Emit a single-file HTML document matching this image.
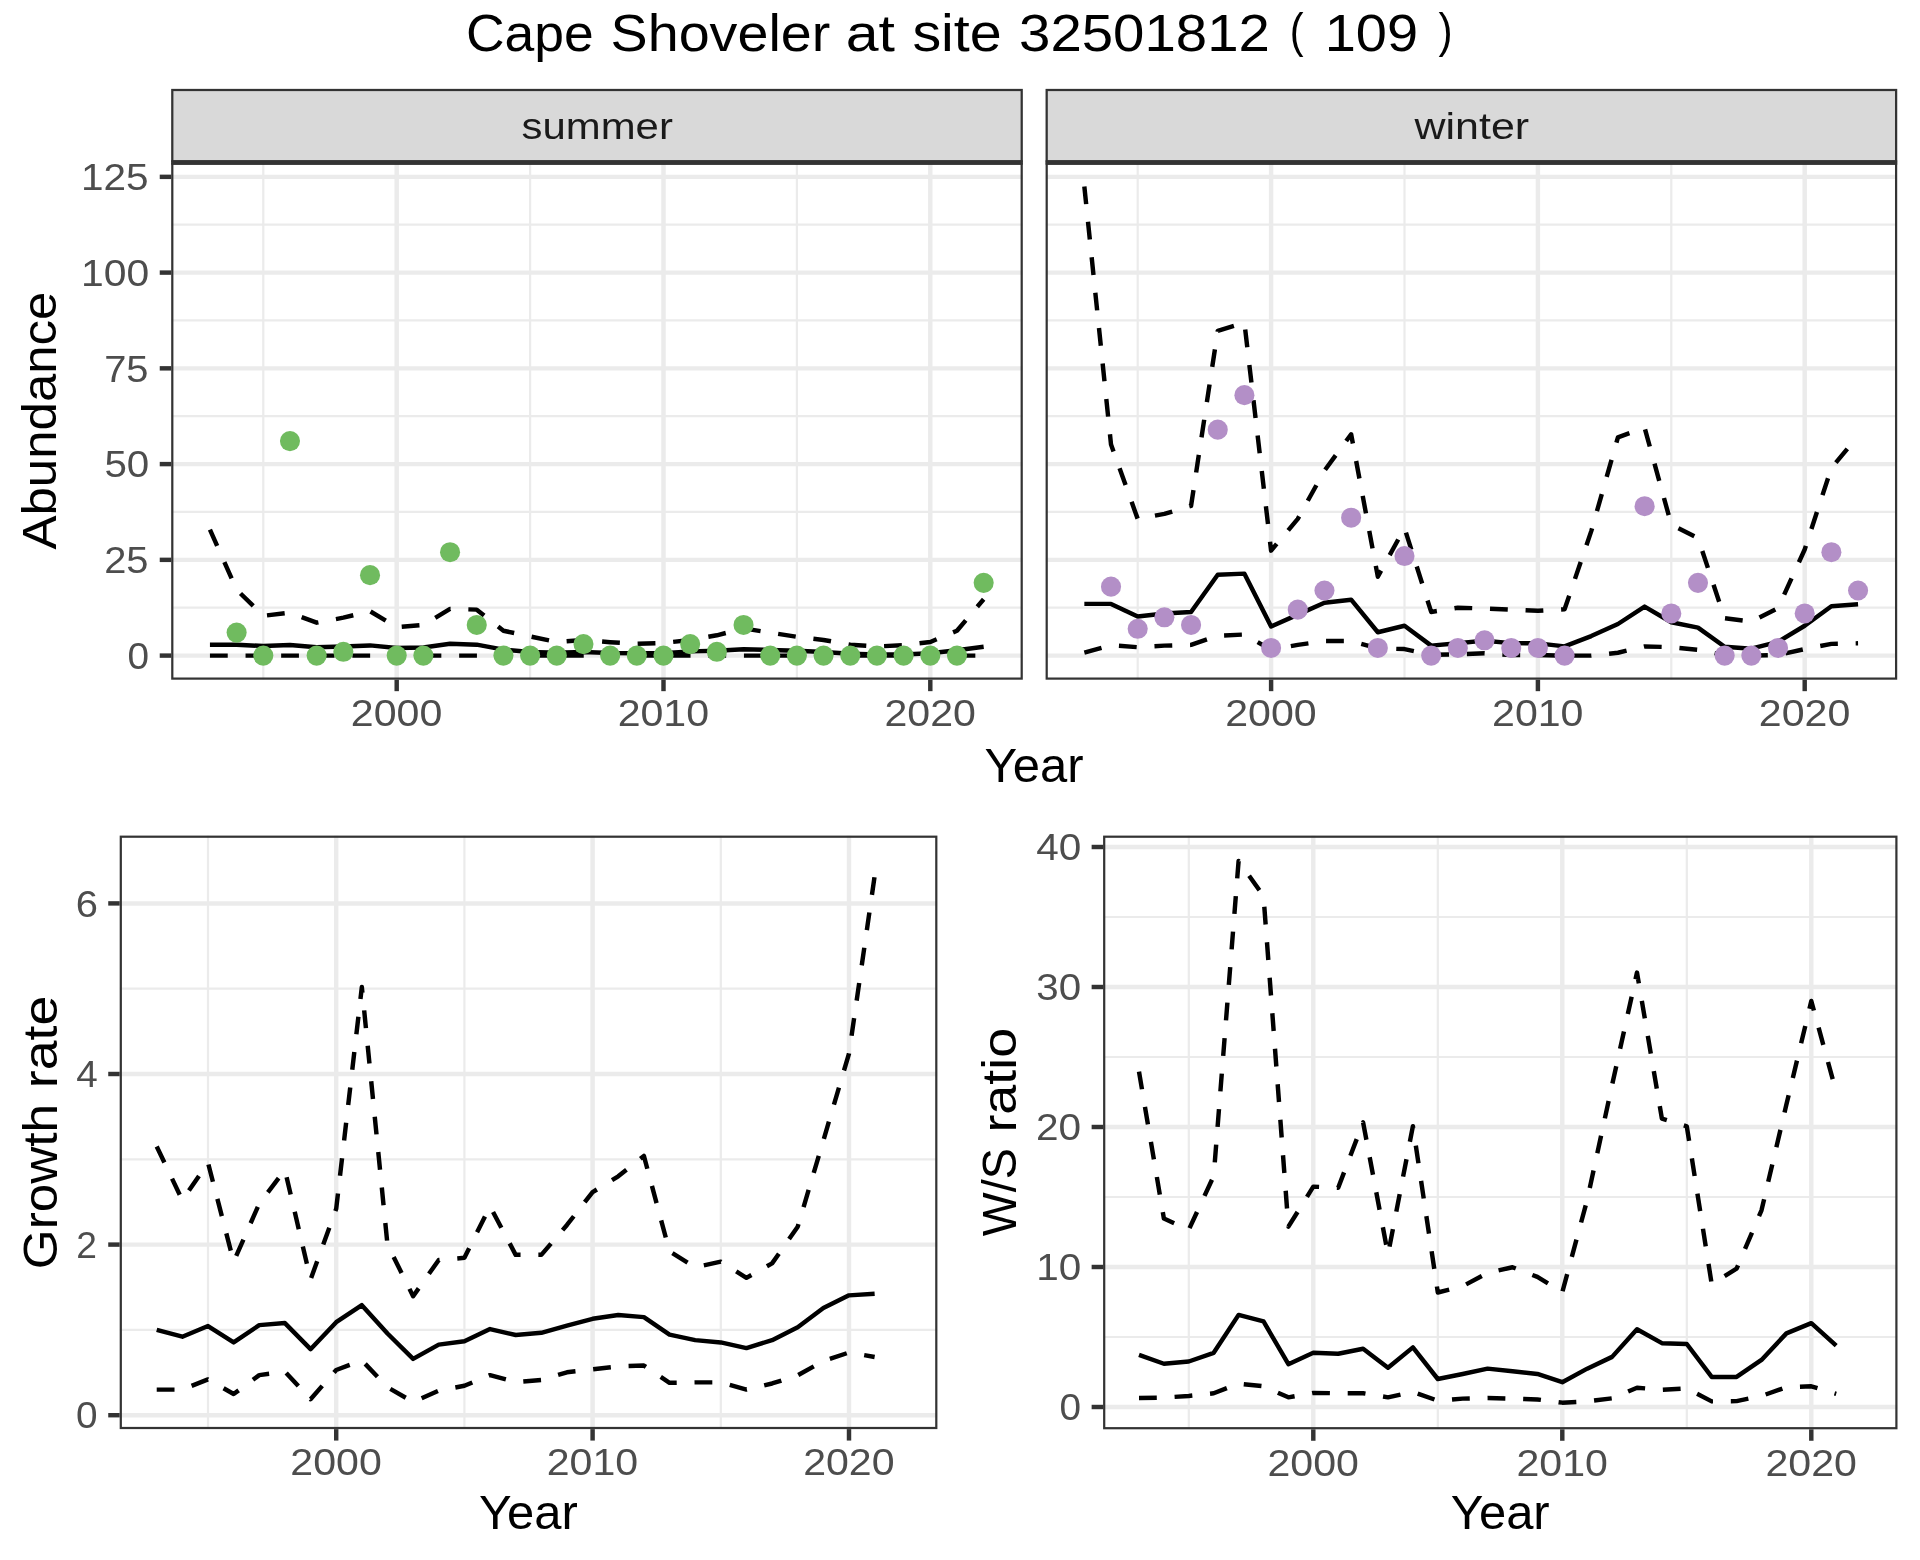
<!DOCTYPE html>
<html><head><meta charset="utf-8"><title>Cape Shoveler at site 32501812</title>
<style>html,body{margin:0;padding:0;background:#fff}svg{display:block;will-change:transform}text{font-family:"Liberation Sans", sans-serif;white-space:pre}</style>
</head><body>
<svg width="1920" height="1560" viewBox="0 0 1920 1560">
<rect width="1920" height="1560" fill="#fff"/>
<g font-size="50.0" fill="#000">
<text transform="translate(465.93,50.80) scale(1.0697,1.0500)">Cape</text>
<text transform="translate(610.60,50.80) scale(1.1133,1.0500)">Shoveler</text>
<text transform="translate(845.70,50.80) scale(1.1795,1.0500)">at</text>
<text transform="translate(912.38,50.80) scale(1.1486,1.0500)">site</text>
<text transform="translate(1019.10,50.80) scale(1.1273,1.0500)">32501812</text>
<text transform="translate(1289.86,47.49) scale(0.8302,0.9570)">(</text>
<text transform="translate(1324.66,50.80) scale(1.1197,1.0500)">109</text>
<text transform="translate(1438.43,47.49) scale(0.8462,0.9570)">)</text>
</g>
<clipPath id="c1"><rect x="171.19" y="162.50" width="851.62" height="517.21"/></clipPath>
<g clip-path="url(#c1)">
<line x1="171.19" x2="1022.81" y1="607.73" y2="607.73" stroke="#EBEBEB" stroke-width="2.22"/>
<line x1="171.19" x2="1022.81" y1="511.98" y2="511.98" stroke="#EBEBEB" stroke-width="2.22"/>
<line x1="171.19" x2="1022.81" y1="416.23" y2="416.23" stroke="#EBEBEB" stroke-width="2.22"/>
<line x1="171.19" x2="1022.81" y1="320.48" y2="320.48" stroke="#EBEBEB" stroke-width="2.22"/>
<line x1="171.19" x2="1022.81" y1="224.73" y2="224.73" stroke="#EBEBEB" stroke-width="2.22"/>
<line x1="263.30" x2="263.30" y1="162.50" y2="679.71" stroke="#EBEBEB" stroke-width="2.22"/>
<line x1="530.10" x2="530.10" y1="162.50" y2="679.71" stroke="#EBEBEB" stroke-width="2.22"/>
<line x1="796.90" x2="796.90" y1="162.50" y2="679.71" stroke="#EBEBEB" stroke-width="2.22"/>
<line x1="171.19" x2="1022.81" y1="655.60" y2="655.60" stroke="#EBEBEB" stroke-width="4.45"/>
<line x1="171.19" x2="1022.81" y1="559.85" y2="559.85" stroke="#EBEBEB" stroke-width="4.45"/>
<line x1="171.19" x2="1022.81" y1="464.10" y2="464.10" stroke="#EBEBEB" stroke-width="4.45"/>
<line x1="171.19" x2="1022.81" y1="368.35" y2="368.35" stroke="#EBEBEB" stroke-width="4.45"/>
<line x1="171.19" x2="1022.81" y1="272.60" y2="272.60" stroke="#EBEBEB" stroke-width="4.45"/>
<line x1="171.19" x2="1022.81" y1="176.85" y2="176.85" stroke="#EBEBEB" stroke-width="4.45"/>
<line x1="396.70" x2="396.70" y1="162.50" y2="679.71" stroke="#EBEBEB" stroke-width="4.45"/>
<line x1="663.50" x2="663.50" y1="162.50" y2="679.71" stroke="#EBEBEB" stroke-width="4.45"/>
<line x1="930.30" x2="930.30" y1="162.50" y2="679.71" stroke="#EBEBEB" stroke-width="4.45"/>
<path d="M209.94,644.72 L236.62,644.72 L263.30,646.02 L289.98,645.07 L316.66,647.17 L343.34,646.41 L370.02,645.41 L396.70,648.05 L423.38,647.56 L450.06,643.73 L476.74,644.68 L503.42,649.66 L530.10,652.00 L556.78,652.65 L583.46,652.00 L610.14,653.00 L636.82,653.30 L663.50,653.30 L690.18,651.39 L716.86,650.66 L743.54,649.32 L770.22,650.01 L796.90,650.81 L823.58,652.00 L850.26,653.69 L876.94,654.45 L903.62,654.45 L930.30,653.30 L956.98,650.24 L983.66,646.79" fill="none" stroke="#000" stroke-width="4.45" stroke-linejoin="round" stroke-linecap="butt"/>
<path d="M209.94,655.60 L236.62,655.60 L263.30,655.60 L289.98,655.60 L316.66,655.60 L343.34,655.60 L370.02,655.60 L396.70,655.60 L423.38,655.60 L450.06,655.60 L476.74,655.60 L503.42,655.60 L530.10,655.60 L556.78,655.60 L583.46,655.60 L610.14,655.60 L636.82,655.60 L663.50,655.60 L690.18,655.60 L716.86,655.60 L743.54,655.60 L770.22,655.60 L796.90,655.60 L823.58,655.60 L850.26,655.60 L876.94,655.60 L903.62,655.60 L930.30,655.60 L956.98,655.60 L983.66,655.60" fill="none" stroke="#000" stroke-width="4.45" stroke-linejoin="round" stroke-linecap="butt" stroke-dasharray="17.80 17.80"/>
<path d="M209.94,529.59 L236.62,589.72 L263.30,615.77 L289.98,612.70 L316.66,622.66 L343.34,617.68 L370.02,611.17 L396.70,627.26 L423.38,624.96 L450.06,608.87 L476.74,609.64 L503.42,630.71 L530.10,636.45 L556.78,642.00 L583.46,640.01 L610.14,642.20 L636.82,643.84 L663.50,642.96 L690.18,640.01 L716.86,635.30 L743.54,628.41 L770.22,632.62 L796.90,636.83 L823.58,640.01 L850.26,644.68 L876.94,646.41 L903.62,645.26 L930.30,642.00 L956.98,630.71 L983.66,599.30" fill="none" stroke="#000" stroke-width="4.45" stroke-linejoin="round" stroke-linecap="butt" stroke-dasharray="17.80 17.80"/>
<circle cx="236.62" cy="632.62" r="10.05" fill="#70BB5F"/>
<circle cx="263.30" cy="655.60" r="10.05" fill="#70BB5F"/>
<circle cx="289.98" cy="441.12" r="10.05" fill="#70BB5F"/>
<circle cx="316.66" cy="655.60" r="10.05" fill="#70BB5F"/>
<circle cx="343.34" cy="651.77" r="10.05" fill="#70BB5F"/>
<circle cx="370.02" cy="575.17" r="10.05" fill="#70BB5F"/>
<circle cx="396.70" cy="655.60" r="10.05" fill="#70BB5F"/>
<circle cx="423.38" cy="655.60" r="10.05" fill="#70BB5F"/>
<circle cx="450.06" cy="552.19" r="10.05" fill="#70BB5F"/>
<circle cx="476.74" cy="624.96" r="10.05" fill="#70BB5F"/>
<circle cx="503.42" cy="655.60" r="10.05" fill="#70BB5F"/>
<circle cx="530.10" cy="655.60" r="10.05" fill="#70BB5F"/>
<circle cx="556.78" cy="655.60" r="10.05" fill="#70BB5F"/>
<circle cx="583.46" cy="644.11" r="10.05" fill="#70BB5F"/>
<circle cx="610.14" cy="655.60" r="10.05" fill="#70BB5F"/>
<circle cx="636.82" cy="655.60" r="10.05" fill="#70BB5F"/>
<circle cx="663.50" cy="655.60" r="10.05" fill="#70BB5F"/>
<circle cx="690.18" cy="644.11" r="10.05" fill="#70BB5F"/>
<circle cx="716.86" cy="651.77" r="10.05" fill="#70BB5F"/>
<circle cx="743.54" cy="624.96" r="10.05" fill="#70BB5F"/>
<circle cx="770.22" cy="655.60" r="10.05" fill="#70BB5F"/>
<circle cx="796.90" cy="655.60" r="10.05" fill="#70BB5F"/>
<circle cx="823.58" cy="655.60" r="10.05" fill="#70BB5F"/>
<circle cx="850.26" cy="655.60" r="10.05" fill="#70BB5F"/>
<circle cx="876.94" cy="655.60" r="10.05" fill="#70BB5F"/>
<circle cx="903.62" cy="655.60" r="10.05" fill="#70BB5F"/>
<circle cx="930.30" cy="655.60" r="10.05" fill="#70BB5F"/>
<circle cx="956.98" cy="655.60" r="10.05" fill="#70BB5F"/>
<circle cx="983.66" cy="582.83" r="10.05" fill="#70BB5F"/>
</g>
<rect x="172.30" y="163.61" width="849.40" height="514.99" fill="none" stroke="#333333" stroke-width="2.22"/>
<rect x="171.19" y="88.89" width="851.62" height="73.61" fill="#D9D9D9"/>
<rect x="172.30" y="90.00" width="849.40" height="71.39" fill="none" stroke="#333333" stroke-width="2.22"/>
<g font-size="36.67" fill="#1A1A1A">
<text transform="translate(521.47,138.50) scale(1.1434,1.0015)">summer</text>
</g>
<line x1="171.19" x2="1022.81" y1="162.50" y2="162.50" stroke="#333333" stroke-width="4.44"/>
<line x1="159.73" x2="171.19" y1="655.60" y2="655.60" stroke="#333333" stroke-width="4.45"/>
<line x1="159.73" x2="171.19" y1="559.85" y2="559.85" stroke="#333333" stroke-width="4.45"/>
<line x1="159.73" x2="171.19" y1="464.10" y2="464.10" stroke="#333333" stroke-width="4.45"/>
<line x1="159.73" x2="171.19" y1="368.35" y2="368.35" stroke="#333333" stroke-width="4.45"/>
<line x1="159.73" x2="171.19" y1="272.60" y2="272.60" stroke="#333333" stroke-width="4.45"/>
<line x1="159.73" x2="171.19" y1="176.85" y2="176.85" stroke="#333333" stroke-width="4.45"/>
<line x1="396.70" x2="396.70" y1="679.71" y2="691.17" stroke="#333333" stroke-width="4.45"/>
<line x1="663.50" x2="663.50" y1="679.71" y2="691.17" stroke="#333333" stroke-width="4.45"/>
<line x1="930.30" x2="930.30" y1="679.71" y2="691.17" stroke="#333333" stroke-width="4.45"/>
<clipPath id="c2"><rect x="1045.59" y="162.50" width="851.62" height="517.21"/></clipPath>
<g clip-path="url(#c2)">
<line x1="1045.59" x2="1897.21" y1="607.73" y2="607.73" stroke="#EBEBEB" stroke-width="2.22"/>
<line x1="1045.59" x2="1897.21" y1="511.98" y2="511.98" stroke="#EBEBEB" stroke-width="2.22"/>
<line x1="1045.59" x2="1897.21" y1="416.23" y2="416.23" stroke="#EBEBEB" stroke-width="2.22"/>
<line x1="1045.59" x2="1897.21" y1="320.48" y2="320.48" stroke="#EBEBEB" stroke-width="2.22"/>
<line x1="1045.59" x2="1897.21" y1="224.73" y2="224.73" stroke="#EBEBEB" stroke-width="2.22"/>
<line x1="1137.70" x2="1137.70" y1="162.50" y2="679.71" stroke="#EBEBEB" stroke-width="2.22"/>
<line x1="1404.50" x2="1404.50" y1="162.50" y2="679.71" stroke="#EBEBEB" stroke-width="2.22"/>
<line x1="1671.30" x2="1671.30" y1="162.50" y2="679.71" stroke="#EBEBEB" stroke-width="2.22"/>
<line x1="1045.59" x2="1897.21" y1="655.60" y2="655.60" stroke="#EBEBEB" stroke-width="4.45"/>
<line x1="1045.59" x2="1897.21" y1="559.85" y2="559.85" stroke="#EBEBEB" stroke-width="4.45"/>
<line x1="1045.59" x2="1897.21" y1="464.10" y2="464.10" stroke="#EBEBEB" stroke-width="4.45"/>
<line x1="1045.59" x2="1897.21" y1="368.35" y2="368.35" stroke="#EBEBEB" stroke-width="4.45"/>
<line x1="1045.59" x2="1897.21" y1="272.60" y2="272.60" stroke="#EBEBEB" stroke-width="4.45"/>
<line x1="1045.59" x2="1897.21" y1="176.85" y2="176.85" stroke="#EBEBEB" stroke-width="4.45"/>
<line x1="1271.10" x2="1271.10" y1="162.50" y2="679.71" stroke="#EBEBEB" stroke-width="4.45"/>
<line x1="1537.90" x2="1537.90" y1="162.50" y2="679.71" stroke="#EBEBEB" stroke-width="4.45"/>
<line x1="1804.70" x2="1804.70" y1="162.50" y2="679.71" stroke="#EBEBEB" stroke-width="4.45"/>
<path d="M1084.34,603.89 L1111.02,603.89 L1137.70,616.53 L1164.38,613.47 L1191.06,611.94 L1217.74,574.79 L1244.42,573.64 L1271.10,626.49 L1297.78,614.62 L1324.46,602.75 L1351.14,599.68 L1377.82,632.24 L1404.50,625.73 L1431.18,645.64 L1457.86,643.34 L1484.54,640.66 L1511.22,643.15 L1537.90,643.34 L1564.58,646.41 L1591.26,636.07 L1617.94,624.00 L1644.62,606.58 L1671.30,622.28 L1697.98,627.64 L1724.66,646.79 L1751.34,648.71 L1778.02,641.81 L1804.70,625.73 L1831.38,606.19 L1858.06,604.28" fill="none" stroke="#000" stroke-width="4.45" stroke-linejoin="round" stroke-linecap="butt"/>
<path d="M1084.34,652.54 L1111.02,645.26 L1137.70,647.17 L1164.38,645.64 L1191.06,644.88 L1217.74,635.68 L1244.42,634.53 L1271.10,649.86 L1297.78,644.88 L1324.46,641.05 L1351.14,641.05 L1377.82,648.32 L1404.50,649.09 L1431.18,654.83 L1457.86,654.45 L1484.54,653.30 L1511.22,655.03 L1537.90,655.03 L1564.58,655.60 L1591.26,655.60 L1617.94,652.73 L1644.62,646.41 L1671.30,647.17 L1697.98,649.86 L1724.66,655.03 L1751.34,655.60 L1778.02,655.03 L1804.70,649.09 L1831.38,643.88 L1858.06,643.34" fill="none" stroke="#000" stroke-width="4.45" stroke-linejoin="round" stroke-linecap="butt" stroke-dasharray="17.80 17.80"/>
<path d="M1084.34,186.43 L1111.02,444.57 L1137.70,518.87 L1164.38,513.89 L1191.06,505.85 L1217.74,330.82 L1244.42,322.77 L1271.10,550.66 L1297.78,518.87 L1324.46,470.61 L1351.14,434.23 L1377.82,576.70 L1404.50,528.06 L1431.18,611.94 L1457.86,607.73 L1484.54,608.49 L1511.22,609.64 L1537.90,610.79 L1564.58,609.26 L1591.26,531.12 L1617.94,437.29 L1644.62,427.72 L1671.30,524.61 L1697.98,538.02 L1724.66,618.26 L1751.34,621.51 L1778.02,608.11 L1804.70,549.51 L1831.38,467.93 L1858.06,436.14" fill="none" stroke="#000" stroke-width="4.45" stroke-linejoin="round" stroke-linecap="butt" stroke-dasharray="17.80 17.80"/>
<circle cx="1111.02" cy="586.66" r="10.05" fill="#B38FC7"/>
<circle cx="1137.70" cy="628.79" r="10.05" fill="#B38FC7"/>
<circle cx="1164.38" cy="617.30" r="10.05" fill="#B38FC7"/>
<circle cx="1191.06" cy="624.96" r="10.05" fill="#B38FC7"/>
<circle cx="1217.74" cy="429.63" r="10.05" fill="#B38FC7"/>
<circle cx="1244.42" cy="395.16" r="10.05" fill="#B38FC7"/>
<circle cx="1271.10" cy="647.94" r="10.05" fill="#B38FC7"/>
<circle cx="1297.78" cy="609.64" r="10.05" fill="#B38FC7"/>
<circle cx="1324.46" cy="590.49" r="10.05" fill="#B38FC7"/>
<circle cx="1351.14" cy="517.72" r="10.05" fill="#B38FC7"/>
<circle cx="1377.82" cy="647.94" r="10.05" fill="#B38FC7"/>
<circle cx="1404.50" cy="556.02" r="10.05" fill="#B38FC7"/>
<circle cx="1431.18" cy="655.60" r="10.05" fill="#B38FC7"/>
<circle cx="1457.86" cy="647.94" r="10.05" fill="#B38FC7"/>
<circle cx="1484.54" cy="640.28" r="10.05" fill="#B38FC7"/>
<circle cx="1511.22" cy="647.94" r="10.05" fill="#B38FC7"/>
<circle cx="1537.90" cy="647.94" r="10.05" fill="#B38FC7"/>
<circle cx="1564.58" cy="655.60" r="10.05" fill="#B38FC7"/>
<circle cx="1644.62" cy="506.23" r="10.05" fill="#B38FC7"/>
<circle cx="1671.30" cy="613.47" r="10.05" fill="#B38FC7"/>
<circle cx="1697.98" cy="582.83" r="10.05" fill="#B38FC7"/>
<circle cx="1724.66" cy="655.60" r="10.05" fill="#B38FC7"/>
<circle cx="1751.34" cy="655.60" r="10.05" fill="#B38FC7"/>
<circle cx="1778.02" cy="647.94" r="10.05" fill="#B38FC7"/>
<circle cx="1804.70" cy="613.47" r="10.05" fill="#B38FC7"/>
<circle cx="1831.38" cy="552.19" r="10.05" fill="#B38FC7"/>
<circle cx="1858.06" cy="590.49" r="10.05" fill="#B38FC7"/>
</g>
<rect x="1046.70" y="163.61" width="849.40" height="514.99" fill="none" stroke="#333333" stroke-width="2.22"/>
<rect x="1045.59" y="88.89" width="851.62" height="73.61" fill="#D9D9D9"/>
<rect x="1046.70" y="90.00" width="849.40" height="71.39" fill="none" stroke="#333333" stroke-width="2.22"/>
<g font-size="36.67" fill="#1A1A1A">
<text transform="translate(1414.50,138.50) scale(1.1722,1.0015)">winter</text>
</g>
<line x1="1045.59" x2="1897.21" y1="162.50" y2="162.50" stroke="#333333" stroke-width="4.44"/>
<line x1="1271.10" x2="1271.10" y1="679.71" y2="691.17" stroke="#333333" stroke-width="4.45"/>
<line x1="1537.90" x2="1537.90" y1="679.71" y2="691.17" stroke="#333333" stroke-width="4.45"/>
<line x1="1804.70" x2="1804.70" y1="679.71" y2="691.17" stroke="#333333" stroke-width="4.45"/>
<g font-size="36.67" fill="#4D4D4D">
<text transform="translate(127.59,668.80) scale(1.0571,1.0241)">0</text>
</g>
<g font-size="36.67" fill="#4D4D4D">
<text transform="translate(104.19,573.05) scale(1.0867,1.0241)">25</text>
</g>
<g font-size="36.67" fill="#4D4D4D">
<text transform="translate(104.44,477.30) scale(1.0993,1.0241)">50</text>
</g>
<g font-size="36.67" fill="#4D4D4D">
<text transform="translate(104.17,381.55) scale(1.0872,1.0241)">75</text>
</g>
<g font-size="36.67" fill="#4D4D4D">
<text transform="translate(80.97,285.80) scale(1.1140,1.0241)">100</text>
</g>
<g font-size="36.67" fill="#4D4D4D">
<text transform="translate(80.99,190.05) scale(1.1057,1.0241)">125</text>
</g>
<g font-size="36.67" fill="#4D4D4D">
<text transform="translate(350.84,725.90) scale(1.1210,1.0241)">2000</text>
</g>
<g font-size="36.67" fill="#4D4D4D">
<text transform="translate(617.64,725.90) scale(1.1210,1.0241)">2010</text>
</g>
<g font-size="36.67" fill="#4D4D4D">
<text transform="translate(884.44,725.90) scale(1.1210,1.0241)">2020</text>
</g>
<g font-size="36.67" fill="#4D4D4D">
<text transform="translate(1225.24,725.90) scale(1.1210,1.0241)">2000</text>
</g>
<g font-size="36.67" fill="#4D4D4D">
<text transform="translate(1492.04,725.90) scale(1.1210,1.0241)">2010</text>
</g>
<g font-size="36.67" fill="#4D4D4D">
<text transform="translate(1758.84,725.90) scale(1.1210,1.0241)">2020</text>
</g>
<g font-size="45.83" fill="#000">
<text transform="translate(984.62,781.70) scale(1.0689,1.0417)">Year</text>
</g>
<g font-size="45.83" fill="#000">
<text transform="translate(56.40,549.46) rotate(-90) scale(1.1122,1.0314)">Abundance</text>
</g>
<clipPath id="c3"><rect x="119.69" y="835.59" width="817.72" height="593.52"/></clipPath>
<g clip-path="url(#c3)">
<line x1="119.69" x2="937.41" y1="1329.90" y2="1329.90" stroke="#EBEBEB" stroke-width="2.22"/>
<line x1="119.69" x2="937.41" y1="1159.30" y2="1159.30" stroke="#EBEBEB" stroke-width="2.22"/>
<line x1="119.69" x2="937.41" y1="988.70" y2="988.70" stroke="#EBEBEB" stroke-width="2.22"/>
<line x1="208.00" x2="208.00" y1="835.59" y2="1429.11" stroke="#EBEBEB" stroke-width="2.22"/>
<line x1="464.40" x2="464.40" y1="835.59" y2="1429.11" stroke="#EBEBEB" stroke-width="2.22"/>
<line x1="720.80" x2="720.80" y1="835.59" y2="1429.11" stroke="#EBEBEB" stroke-width="2.22"/>
<line x1="119.69" x2="937.41" y1="1415.20" y2="1415.20" stroke="#EBEBEB" stroke-width="4.45"/>
<line x1="119.69" x2="937.41" y1="1244.60" y2="1244.60" stroke="#EBEBEB" stroke-width="4.45"/>
<line x1="119.69" x2="937.41" y1="1074.00" y2="1074.00" stroke="#EBEBEB" stroke-width="4.45"/>
<line x1="119.69" x2="937.41" y1="903.40" y2="903.40" stroke="#EBEBEB" stroke-width="4.45"/>
<line x1="336.20" x2="336.20" y1="835.59" y2="1429.11" stroke="#EBEBEB" stroke-width="4.45"/>
<line x1="592.60" x2="592.60" y1="835.59" y2="1429.11" stroke="#EBEBEB" stroke-width="4.45"/>
<line x1="849.00" x2="849.00" y1="835.59" y2="1429.11" stroke="#EBEBEB" stroke-width="4.45"/>
<path d="M156.72,1329.90 L182.36,1336.72 L208.00,1326.06 L233.64,1342.44 L259.28,1325.12 L284.92,1323.08 L310.56,1349.18 L336.20,1322.22 L361.84,1305.16 L387.48,1333.48 L413.12,1358.90 L438.76,1344.66 L464.40,1341.33 L490.04,1329.05 L515.68,1335.02 L541.32,1332.80 L566.96,1325.63 L592.60,1318.81 L618.24,1315.06 L643.88,1317.11 L669.52,1334.59 L695.16,1340.14 L720.80,1342.44 L746.44,1348.07 L772.08,1340.14 L797.72,1327.34 L823.36,1308.06 L849.00,1295.35 L874.64,1293.73" fill="none" stroke="#000" stroke-width="4.45" stroke-linejoin="round" stroke-linecap="butt"/>
<path d="M156.72,1389.61 L182.36,1389.61 L208.00,1379.37 L233.64,1394.05 L259.28,1375.11 L284.92,1371.70 L310.56,1399.16 L336.20,1369.99 L361.84,1360.35 L387.48,1387.31 L413.12,1401.98 L438.76,1390.63 L464.40,1385.77 L490.04,1375.11 L515.68,1382.10 L541.32,1379.89 L566.96,1372.29 L592.60,1369.31 L618.24,1366.41 L643.88,1365.56 L669.52,1382.79 L695.16,1382.36 L720.80,1382.36 L746.44,1389.61 L772.08,1383.47 L797.72,1375.36 L823.36,1361.03 L849.00,1352.50 L874.64,1357.03" fill="none" stroke="#000" stroke-width="4.45" stroke-linejoin="round" stroke-linecap="butt" stroke-dasharray="17.80 17.80"/>
<path d="M156.72,1146.51 L182.36,1200.24 L208.00,1162.71 L233.64,1261.66 L259.28,1203.66 L284.92,1169.96 L310.56,1279.57 L336.20,1208.77 L361.84,986.99 L387.48,1244.60 L413.12,1296.21 L438.76,1259.95 L464.40,1257.82 L490.04,1206.22 L515.68,1254.84 L541.32,1254.84 L566.96,1224.98 L592.60,1192.14 L618.24,1176.36 L643.88,1155.89 L669.52,1251.42 L695.16,1267.20 L720.80,1261.66 L746.44,1277.87 L772.08,1263.37 L797.72,1226.69 L823.36,1140.53 L849.00,1053.53 L874.64,876.10" fill="none" stroke="#000" stroke-width="4.45" stroke-linejoin="round" stroke-linecap="butt" stroke-dasharray="17.80 17.80"/>
</g>
<rect x="120.80" y="836.70" width="815.50" height="591.30" fill="none" stroke="#333333" stroke-width="2.22"/>
<line x1="108.23" x2="119.69" y1="1415.20" y2="1415.20" stroke="#333333" stroke-width="4.45"/>
<line x1="108.23" x2="119.69" y1="1244.60" y2="1244.60" stroke="#333333" stroke-width="4.45"/>
<line x1="108.23" x2="119.69" y1="1074.00" y2="1074.00" stroke="#333333" stroke-width="4.45"/>
<line x1="108.23" x2="119.69" y1="903.40" y2="903.40" stroke="#333333" stroke-width="4.45"/>
<line x1="336.20" x2="336.20" y1="1429.11" y2="1440.57" stroke="#333333" stroke-width="4.45"/>
<line x1="592.60" x2="592.60" y1="1429.11" y2="1440.57" stroke="#333333" stroke-width="4.45"/>
<line x1="849.00" x2="849.00" y1="1429.11" y2="1440.57" stroke="#333333" stroke-width="4.45"/>
<g font-size="36.67" fill="#4D4D4D">
<text transform="translate(76.09,1428.40) scale(1.0571,1.0241)">0</text>
</g>
<g font-size="36.67" fill="#4D4D4D">
<text transform="translate(76.15,1257.80) scale(1.0149,1.0241)">2</text>
</g>
<g font-size="36.67" fill="#4D4D4D">
<text transform="translate(76.13,1087.20) scale(1.0541,1.0241)">4</text>
</g>
<g font-size="36.67" fill="#4D4D4D">
<text transform="translate(75.77,916.60) scale(1.0882,1.0241)">6</text>
</g>
<g font-size="36.67" fill="#4D4D4D">
<text transform="translate(290.34,1475.30) scale(1.1210,1.0241)">2000</text>
</g>
<g font-size="36.67" fill="#4D4D4D">
<text transform="translate(546.74,1475.30) scale(1.1210,1.0241)">2010</text>
</g>
<g font-size="36.67" fill="#4D4D4D">
<text transform="translate(803.14,1475.30) scale(1.1210,1.0241)">2020</text>
</g>
<g font-size="45.83" fill="#000">
<text transform="translate(478.92,1528.80) scale(1.0689,1.0417)">Year</text>
</g>
<g font-size="45.83" fill="#000">
<text transform="translate(56.70,1269.19) rotate(-90) scale(1.1193,1.0314)">Growth</text>
<text transform="translate(56.70,1088.19) rotate(-90) scale(1.1723,1.0314)">rate</text>
</g>
<clipPath id="c4"><rect x="1103.09" y="835.59" width="794.42" height="593.72"/></clipPath>
<g clip-path="url(#c4)">
<line x1="1103.09" x2="1897.51" y1="1337.00" y2="1337.00" stroke="#EBEBEB" stroke-width="2.22"/>
<line x1="1103.09" x2="1897.51" y1="1197.00" y2="1197.00" stroke="#EBEBEB" stroke-width="2.22"/>
<line x1="1103.09" x2="1897.51" y1="1057.00" y2="1057.00" stroke="#EBEBEB" stroke-width="2.22"/>
<line x1="1103.09" x2="1897.51" y1="917.00" y2="917.00" stroke="#EBEBEB" stroke-width="2.22"/>
<line x1="1188.80" x2="1188.80" y1="835.59" y2="1429.31" stroke="#EBEBEB" stroke-width="2.22"/>
<line x1="1437.80" x2="1437.80" y1="835.59" y2="1429.31" stroke="#EBEBEB" stroke-width="2.22"/>
<line x1="1686.80" x2="1686.80" y1="835.59" y2="1429.31" stroke="#EBEBEB" stroke-width="2.22"/>
<line x1="1103.09" x2="1897.51" y1="1407.00" y2="1407.00" stroke="#EBEBEB" stroke-width="4.45"/>
<line x1="1103.09" x2="1897.51" y1="1267.00" y2="1267.00" stroke="#EBEBEB" stroke-width="4.45"/>
<line x1="1103.09" x2="1897.51" y1="1127.00" y2="1127.00" stroke="#EBEBEB" stroke-width="4.45"/>
<line x1="1103.09" x2="1897.51" y1="987.00" y2="987.00" stroke="#EBEBEB" stroke-width="4.45"/>
<line x1="1103.09" x2="1897.51" y1="847.00" y2="847.00" stroke="#EBEBEB" stroke-width="4.45"/>
<line x1="1313.30" x2="1313.30" y1="835.59" y2="1429.31" stroke="#EBEBEB" stroke-width="4.45"/>
<line x1="1562.30" x2="1562.30" y1="835.59" y2="1429.31" stroke="#EBEBEB" stroke-width="4.45"/>
<line x1="1811.30" x2="1811.30" y1="835.59" y2="1429.31" stroke="#EBEBEB" stroke-width="4.45"/>
<path d="M1139.00,1354.92 L1163.90,1363.74 L1188.80,1361.50 L1213.70,1352.82 L1238.60,1314.88 L1263.50,1321.46 L1288.40,1364.16 L1313.30,1352.82 L1338.20,1353.80 L1363.10,1348.76 L1388.00,1367.80 L1412.90,1347.36 L1437.80,1379.00 L1462.70,1373.96 L1487.60,1368.64 L1512.50,1371.30 L1537.40,1373.96 L1562.30,1382.22 L1587.20,1368.64 L1612.10,1356.88 L1637.00,1329.30 L1661.90,1343.16 L1686.80,1344.00 L1711.70,1376.90 L1736.60,1376.90 L1761.50,1359.96 L1786.40,1333.36 L1811.30,1323.14 L1836.20,1345.68" fill="none" stroke="#000" stroke-width="4.45" stroke-linejoin="round" stroke-linecap="butt"/>
<path d="M1139.00,1397.97 L1163.90,1397.62 L1188.80,1395.94 L1213.70,1393.28 L1238.60,1383.62 L1263.50,1386.28 L1288.40,1397.34 L1313.30,1392.86 L1338.20,1393.28 L1363.10,1393.28 L1388.00,1397.34 L1412.90,1391.88 L1437.80,1400.70 L1462.70,1398.60 L1487.60,1397.97 L1512.50,1398.60 L1537.40,1399.44 L1562.30,1402.66 L1587.20,1401.40 L1612.10,1398.32 L1637.00,1387.68 L1661.90,1389.78 L1686.80,1388.38 L1711.70,1401.40 L1736.60,1401.12 L1761.50,1395.94 L1786.40,1387.12 L1811.30,1386.28 L1836.20,1393.84" fill="none" stroke="#000" stroke-width="4.45" stroke-linejoin="round" stroke-linecap="butt" stroke-dasharray="17.80 17.80"/>
<path d="M1139.00,1071.70 L1163.90,1218.56 L1188.80,1229.76 L1213.70,1176.00 L1238.60,861.00 L1263.50,896.00 L1288.40,1226.68 L1313.30,1186.64 L1338.20,1187.76 L1363.10,1122.38 L1388.00,1254.40 L1412.90,1126.16 L1437.80,1292.48 L1462.70,1286.18 L1487.60,1272.88 L1512.50,1267.28 L1537.40,1276.94 L1562.30,1292.20 L1587.20,1199.80 L1612.10,1085.00 L1637.00,972.58 L1661.90,1118.60 L1686.80,1126.30 L1711.70,1284.08 L1736.60,1268.68 L1761.50,1210.30 L1786.40,1104.60 L1811.30,1001.00 L1836.20,1092.00" fill="none" stroke="#000" stroke-width="4.45" stroke-linejoin="round" stroke-linecap="butt" stroke-dasharray="17.80 17.80"/>
</g>
<rect x="1104.20" y="836.70" width="792.20" height="591.50" fill="none" stroke="#333333" stroke-width="2.22"/>
<line x1="1091.63" x2="1103.09" y1="1407.00" y2="1407.00" stroke="#333333" stroke-width="4.45"/>
<line x1="1091.63" x2="1103.09" y1="1267.00" y2="1267.00" stroke="#333333" stroke-width="4.45"/>
<line x1="1091.63" x2="1103.09" y1="1127.00" y2="1127.00" stroke="#333333" stroke-width="4.45"/>
<line x1="1091.63" x2="1103.09" y1="987.00" y2="987.00" stroke="#333333" stroke-width="4.45"/>
<line x1="1091.63" x2="1103.09" y1="847.00" y2="847.00" stroke="#333333" stroke-width="4.45"/>
<line x1="1313.30" x2="1313.30" y1="1429.31" y2="1440.77" stroke="#333333" stroke-width="4.45"/>
<line x1="1562.30" x2="1562.30" y1="1429.31" y2="1440.77" stroke="#333333" stroke-width="4.45"/>
<line x1="1811.30" x2="1811.30" y1="1429.31" y2="1440.77" stroke="#333333" stroke-width="4.45"/>
<g font-size="36.67" fill="#4D4D4D">
<text transform="translate(1059.49,1420.20) scale(1.0571,1.0241)">0</text>
</g>
<g font-size="36.67" fill="#4D4D4D">
<text transform="translate(1036.21,1280.20) scale(1.1027,1.0241)">10</text>
</g>
<g font-size="36.67" fill="#4D4D4D">
<text transform="translate(1036.06,1140.20) scale(1.1067,1.0241)">20</text>
</g>
<g font-size="36.67" fill="#4D4D4D">
<text transform="translate(1036.34,1000.20) scale(1.0993,1.0241)">30</text>
</g>
<g font-size="36.67" fill="#4D4D4D">
<text transform="translate(1036.17,860.20) scale(1.1039,1.0241)">40</text>
</g>
<g font-size="36.67" fill="#4D4D4D">
<text transform="translate(1267.44,1475.50) scale(1.1210,1.0241)">2000</text>
</g>
<g font-size="36.67" fill="#4D4D4D">
<text transform="translate(1516.44,1475.50) scale(1.1210,1.0241)">2010</text>
</g>
<g font-size="36.67" fill="#4D4D4D">
<text transform="translate(1765.44,1475.50) scale(1.1210,1.0241)">2020</text>
</g>
<g font-size="45.83" fill="#000">
<text transform="translate(1450.72,1528.80) scale(1.0689,1.0417)">Year</text>
</g>
<g font-size="45.83" fill="#000">
<text transform="translate(1016.30,1236.29) rotate(-90) scale(1.0178,1.0314)">W/S</text>
<text transform="translate(1016.30,1132.56) rotate(-90) scale(1.1751,1.0314)">ratio</text>
</g>
</svg>
</body></html>
